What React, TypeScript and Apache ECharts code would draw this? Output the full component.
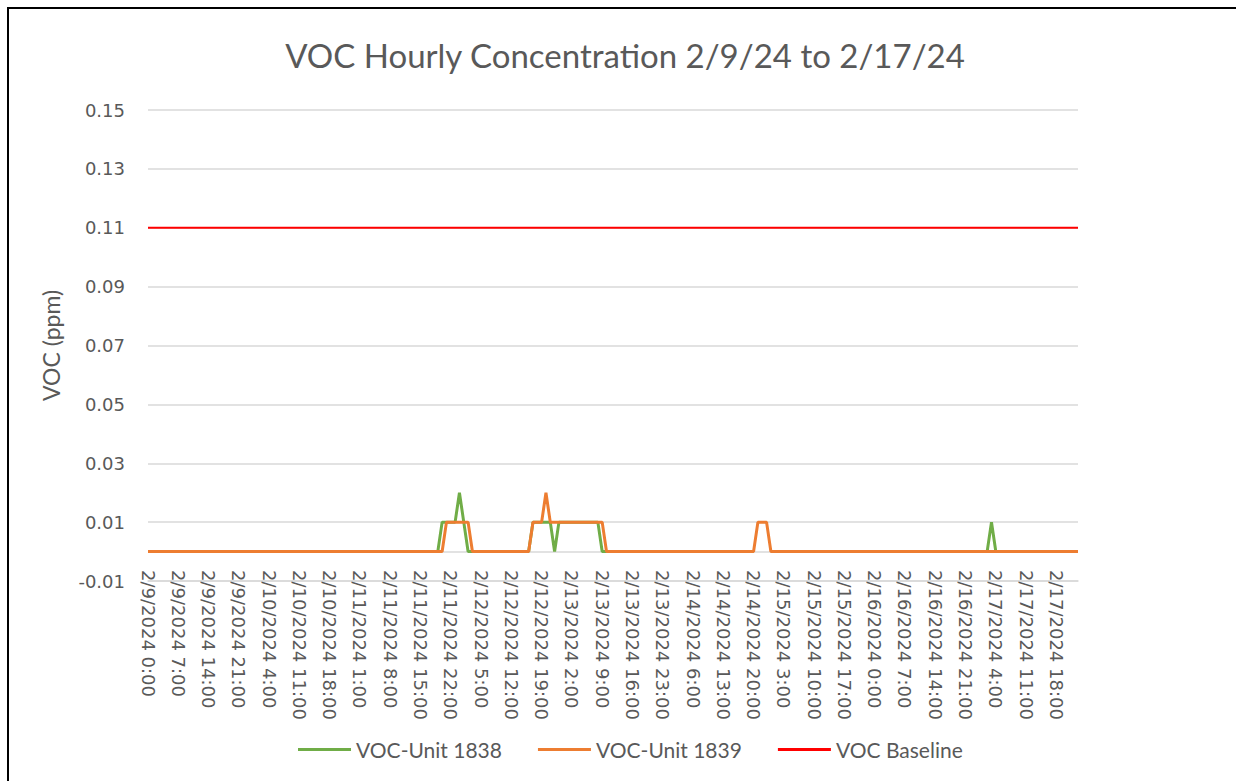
import React, { useEffect, useRef } from "react";
import * as echarts from "echarts";

// Hourly timestamps 2/9/2024 0:00 .. 2/17/2024 23:00 (9 days x 24 h)
const DAYS = ["2/9/2024", "2/10/2024", "2/11/2024", "2/12/2024", "2/13/2024", "2/14/2024", "2/15/2024", "2/16/2024", "2/17/2024"];
const HOURS = ["0:00", "1:00", "2:00", "3:00", "4:00", "5:00", "6:00", "7:00", "8:00", "9:00", "10:00", "11:00", "12:00", "13:00", "14:00", "15:00", "16:00", "17:00", "18:00", "19:00", "20:00", "21:00", "22:00", "23:00"];
const categories: string[] = [];
DAYS.forEach((d) => HOURS.forEach((h) => categories.push(`${d} ${h}`)));

// VOC-Unit 1838 (ppm), one row per day, 24 hourly readings (null = no reading)
const unit1838 = [
  // 2/9
  0, 0, 0, 0, 0, 0, 0, 0, 0, 0, 0, 0, 0, 0, 0, 0, 0, 0, 0, 0, 0, 0, 0, 0,
  // 2/10
  0, 0, 0, 0, 0, 0, 0, 0, 0, 0, 0, 0, 0, 0, 0, 0, 0, 0, 0, 0, 0, 0, 0, 0,
  // 2/11
  0, 0, 0, 0, 0, 0, 0, 0, 0, 0, 0, 0, 0, 0, 0, 0, 0, 0, 0, 0, 0.01, 0.01, 0.01, 0.01,
  // 2/12
  0.02, 0.01, 0, 0, 0, 0, 0, 0, 0, 0, 0, 0, 0, 0, 0, 0, 0, 0.01, 0.01, 0.01, 0.01, 0.01, 0, 0.01,
  // 2/13
  0.01, 0.01, 0.01, 0.01, 0.01, 0.01, 0.01, 0.01, 0.01, 0, 0, 0, 0, 0, 0, 0, 0, 0, 0, 0, 0, 0, 0, 0,
  // 2/14
  0, 0, 0, 0, 0, 0, 0, 0, 0, 0, 0, 0, 0, 0, 0, 0, 0, 0, 0, 0, 0, null, null, null,
  // 2/15
  0, 0, 0, 0, 0, 0, 0, 0, 0, 0, 0, 0, 0, 0, 0, 0, 0, 0, 0, 0, 0, 0, 0, 0,
  // 2/16
  0, 0, 0, 0, 0, 0, 0, 0, 0, 0, 0, 0, 0, 0, 0, 0, 0, 0, 0, 0, 0, 0, 0, 0,
  // 2/17
  0, 0, 0, 0.01, 0, 0, 0, 0, 0, 0, 0, 0, 0, 0, 0, 0, 0, 0, 0, 0, 0, 0, 0, 0,
];

// VOC-Unit 1839 (ppm)
const unit1839 = [
  // 2/9
  0, 0, 0, 0, 0, 0, 0, 0, 0, 0, 0, 0, 0, 0, 0, 0, 0, 0, 0, 0, 0, 0, 0, 0,
  // 2/10
  0, 0, 0, 0, 0, 0, 0, 0, 0, 0, 0, 0, 0, 0, 0, 0, 0, 0, 0, 0, 0, 0, 0, 0,
  // 2/11
  0, 0, 0, 0, 0, 0, 0, 0, 0, 0, 0, 0, 0, 0, 0, 0, 0, 0, 0, 0, 0, 0.01, 0.01, 0.01,
  // 2/12
  0.01, 0.01, 0.01, 0, 0, 0, 0, 0, 0, 0, 0, 0, 0, 0, 0, 0, 0, 0.01, 0.01, 0.01, 0.02, 0.01, 0.01, 0.01,
  // 2/13
  0.01, 0.01, 0.01, 0.01, 0.01, 0.01, 0.01, 0.01, 0.01, 0.01, 0, 0, 0, 0, 0, 0, 0, 0, 0, 0, 0, 0, 0, 0,
  // 2/14
  0, 0, 0, 0, 0, 0, 0, 0, 0, 0, 0, 0, 0, 0, 0, 0, 0, 0, 0, 0, 0, 0.01, 0.01, 0.01,
  // 2/15
  0, 0, 0, 0, 0, 0, 0, 0, 0, 0, 0, 0, 0, 0, 0, 0, 0, 0, 0, 0, 0, 0, 0, 0,
  // 2/16
  0, 0, 0, 0, 0, 0, 0, 0, 0, 0, 0, 0, 0, 0, 0, 0, 0, 0, 0, 0, 0, 0, 0, 0,
  // 2/17
  0, 0, 0, 0, 0, 0, 0, 0, 0, 0, 0, 0, 0, 0, 0, 0, 0, 0, 0, 0, 0, 0, 0, 0,
];

// VOC Baseline (ppm) - constant threshold
const BASELINE_PPM = 0.11;
const baseline = categories.map(() => BASELINE_PPM);

const Y_MIN = -0.01;
const Y_MAX = 0.15;
const Y_STEP = 0.02;

const TEXT = "#595959";
const GRID = "#d9d9d9";

export default function App() {
  const ref = useRef<HTMLDivElement>(null);

  useEffect(() => {
    document.body.style.margin = "0";
    if (!ref.current) return;
    const chart = echarts.init(ref.current, null, { renderer: "svg" });
    chart.setOption({
      animation: false,
      backgroundColor: "#ffffff",
      title: {
        text: "VOC Hourly Concentration 2/9/24 to 2/17/24",
        left: 620,
        textAlign: "center",
        top: 33,
        textStyle: { fontFamily: "Lato", fontWeight: "normal", fontSize: 33, color: TEXT },
      },
      legend: {
        left: 293,
        top: 734,
        itemGap: 36,
        itemWidth: 53,
        itemHeight: 3,
        icon: "rect",
        textStyle: { fontFamily: "Lato", fontSize: 21, color: TEXT },
        data: ["VOC-Unit 1838", "VOC-Unit 1839", "VOC Baseline"],
      },
      grid: { left: 148, right: 158, top: 110, bottom: 200, containLabel: false },
      xAxis: {
        type: "category",
        data: categories,
        boundaryGap: false,
        axisLine: { show: true, onZero: false, lineStyle: { color: GRID, width: 1.5 } },
        axisTick: { show: false },
        splitLine: { show: false },
        axisLabel: {
          interval: 6,
          rotate: -90,
          margin: -11,
          color: TEXT,
          fontFamily: "DejaVu Sans",
          fontSize: 18,
        },
      },
      yAxis: {
        type: "value",
        min: Y_MIN,
        max: Y_MAX,
        interval: Y_STEP,
        name: "VOC (ppm)",
        nameLocation: "middle",
        nameGap: 86,
        nameTextStyle: { fontFamily: "Lato", fontSize: 23, color: TEXT },
        axisLine: { show: false },
        axisTick: { show: false },
        splitLine: { show: true, lineStyle: { color: GRID, width: 1.5 } },
        axisLabel: {
          margin: 23,
          color: TEXT,
          fontFamily: "DejaVu Sans",
          fontSize: 18,
          formatter: (v: number) => v.toFixed(2),
        },
      },
      series: [
        {
          name: "VOC-Unit 1838",
          type: "line",
          data: unit1838,
          showSymbol: false,
          symbol: "none",
          connectNulls: false,
          lineStyle: { color: "#70ad47", width: 3 },
          itemStyle: { color: "#70ad47" },
          markLine: {
            silent: true,
            symbol: "none",
            z: 1,
            label: { show: false },
            lineStyle: { color: GRID, width: 1.5, type: "solid" },
            data: [{ yAxis: 0 }],
          },
        },
        {
          name: "VOC-Unit 1839",
          type: "line",
          data: unit1839,
          showSymbol: false,
          symbol: "none",
          lineStyle: { color: "#ed7d31", width: 3 },
          itemStyle: { color: "#ed7d31" },
        },
        {
          name: "VOC Baseline",
          type: "line",
          data: baseline,
          showSymbol: false,
          symbol: "none",
          lineStyle: { color: "#ff0000", width: 2 },
          itemStyle: { color: "#ff0000" },
        },
      ],
    });
    return () => chart.dispose();
  }, []);

  return (
    <div style={{ position: "relative", width: 1236, height: 781, overflow: "hidden", background: "#fff" }}>
      <div ref={ref} style={{ position: "absolute", left: 0, top: 0, width: 1236, height: 781 }} />
      <div
        style={{
          position: "absolute",
          left: 7,
          top: 7,
          width: 1300,
          height: 900,
          borderLeft: "2px solid #000",
          borderTop: "2px solid #000",
          pointerEvents: "none",
        }}
      />
    </div>
  );
}
